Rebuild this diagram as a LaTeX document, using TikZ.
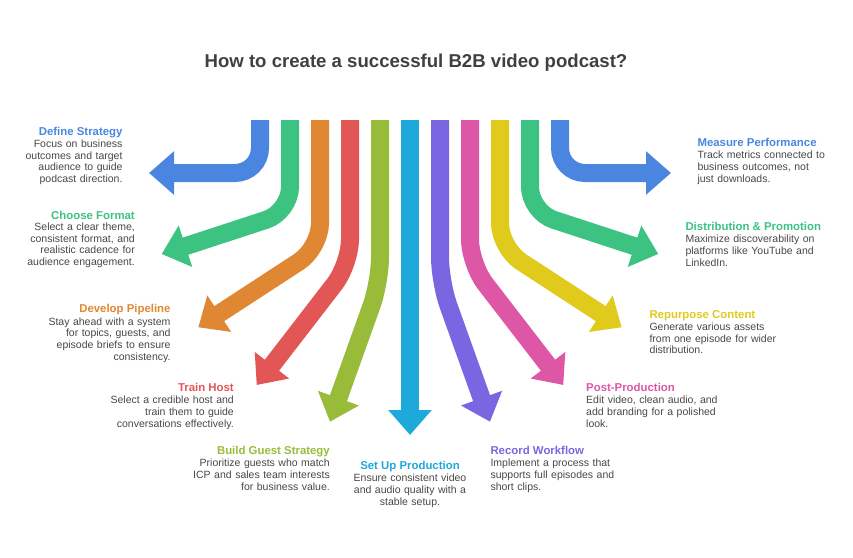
\documentclass[tikz,border=0pt]{standalone}
\usepackage{fontspec}
\setmainfont{Liberation Sans}
\usetikzlibrary{arrows.meta}
\definecolor{cblue}{HTML}{4A86E0}
\definecolor{cgreen}{HTML}{3CC281}
\definecolor{corange}{HTML}{E08733}
\definecolor{cred}{HTML}{E25656}
\definecolor{clime}{HTML}{98BC3A}
\definecolor{ccyan}{HTML}{1DA9DA}
\definecolor{cpurple}{HTML}{7B66E2}
\definecolor{cpink}{HTML}{DE56A6}
\definecolor{cyellow}{HTML}{E0CB1C}
\definecolor{txt}{HTML}{474747}
\definecolor{ttl}{HTML}{404040}
\begin{document}
\begin{tikzpicture}[x=1pt,y=-1pt,
  arr/.style={line width=18pt, rounded corners=25pt, -{Triangle[length=25pt,width=42pt]}},
  head/.style={font=\fontsize{11.4}{13}\selectfont\bfseries, inner sep=0pt},
  desc/.style={font=\fontsize{10.5}{11.8}\selectfont, text=txt, inner sep=0pt, text width=160pt},
  dl/.style={desc, align=right, anchor=base east},
  dr/.style={desc, align=left, anchor=base west},
]
\useasboundingbox (0,0) rectangle (853,557);

\node[font=\fontsize{18.6}{22}\selectfont\bfseries, text=ttl, anchor=base, inner sep=0pt] (title) at (416,67) {How to create a successful B2B video podcast?};

% arrow coordinates
\coordinate (t1) at (260,120); \coordinate (b1) at (260,173); \coordinate (p1) at (149,173);
\coordinate (t2) at (290,120); \coordinate (b2) at (290,212); \coordinate (p2) at (161.7,254);
\coordinate (t3) at (320,120); \coordinate (b3) at (320,248); \coordinate (p3) at (198.3,327.3);
\coordinate (t4) at (350,120); \coordinate (b4) at (350,264); \coordinate (p4) at (256.7,385);
\coordinate (t5) at (380,120); \coordinate (b5) at (380,282); \coordinate (p5) at (330,421.7);
\coordinate (t6) at (410,120); \coordinate (p6) at (410,435);
\coordinate (t7) at (440,120); \coordinate (b7) at (440,282); \coordinate (p7) at (490,421.7);
\coordinate (t8) at (470,120); \coordinate (b8) at (470,264); \coordinate (p8) at (563.3,385);
\coordinate (t9) at (500,120); \coordinate (b9) at (500,248); \coordinate (p9) at (621.7,327.3);
\coordinate (t10) at (530,120); \coordinate (b10) at (530,212); \coordinate (p10) at (658.3,254);
\coordinate (t11) at (560,120); \coordinate (b11) at (560,173); \coordinate (p11) at (671,173);

\draw[arr, cblue] (t1) -- (b1) -- (p1);
\draw[arr, cgreen] (t2) -- (b2) -- (p2);
\draw[arr, corange] (t3) -- (b3) -- (p3);
\draw[arr, cred] (t4) -- (b4) -- (p4);
\draw[arr, clime] (t5) -- (b5) -- (p5);
\draw[arr, ccyan] (t6) -- (p6);
\draw[arr, cpurple] (t7) -- (b7) -- (p7);
\draw[arr, cpink] (t8) -- (b8) -- (p8);
\draw[arr, cyellow] (t9) -- (b9) -- (p9);
\draw[arr, cgreen] (t10) -- (b10) -- (p10);
\draw[arr, cblue] (t11) -- (b11) -- (p11);

% left labels
\node[head, text=cblue, anchor=base east] (h1) at (122.7,135) {Define Strategy};
\node[dl] (d1) at (122.7,147.3) {Focus on business\\outcomes and target\\audience to guide\\podcast direction.};
\node[head, text=cgreen, anchor=base east] (h2) at (135,219) {Choose Format};
\node[dl] (d2) at (135,230.3) {Select a clear theme,\\consistent format, and\\realistic cadence for\\audience engagement.};
\node[head, text=corange, anchor=base east] (h3) at (170.7,312.3) {Develop Pipeline};
\node[dl] (d3) at (170.7,325) {Stay ahead with a system\\for topics, guests, and\\episode briefs to ensure\\consistency.};
\node[head, text=cred, anchor=base east] (h4) at (234,391.7) {Train Host};
\node[dl] (d4) at (234,403.6) {Select a credible host and\\train them to guide\\conversations effectively.};
\node[head, text=clime, anchor=base east] (h5) at (330,454.3) {Build Guest Strategy};
\node[dl] (d5) at (330,466.7) {Prioritize guests who match\\ICP and sales team interests\\for business value.};
% center
\node[head, text=ccyan, anchor=base] (h6) at (410,469) {Set Up Production};
\node[desc, align=center, anchor=base] (d6) at (410,481.7) {Ensure consistent video\\and audio quality with a\\stable setup.};
% right labels
\node[head, text=cpurple, anchor=base west] (h7) at (490.3,454.3) {Record Workflow};
\node[dr] (d7) at (490.3,466.7) {Implement a process that\\supports full episodes and\\short clips.};
\node[head, text=cpink, anchor=base west] (h8) at (586,391.7) {Post-Production};
\node[dr] (d8) at (586,403.6) {Edit video, clean audio, and\\add branding for a polished\\look.};
\node[head, text=cyellow, anchor=base west] (h9) at (649.3,318.3) {Repurpose Content};
\node[dr] (d9) at (649.3,330.2) {Generate various assets\\from one episode for wider\\distribution.};
\node[head, text=cgreen, anchor=base west] (h10) at (685.3,230.7) {Distribution \& Promotion};
\node[dr] (d10) at (685.3,242.5) {Maximize discoverability on\\platforms like YouTube and\\LinkedIn.};
\node[head, text=cblue, anchor=base west] (h11) at (697.3,146.7) {Measure Performance};
\node[dr] (d11) at (697.3,158.5) {Track metrics connected to\\business outcomes, not\\just downloads.};
\end{tikzpicture}
\end{document}
